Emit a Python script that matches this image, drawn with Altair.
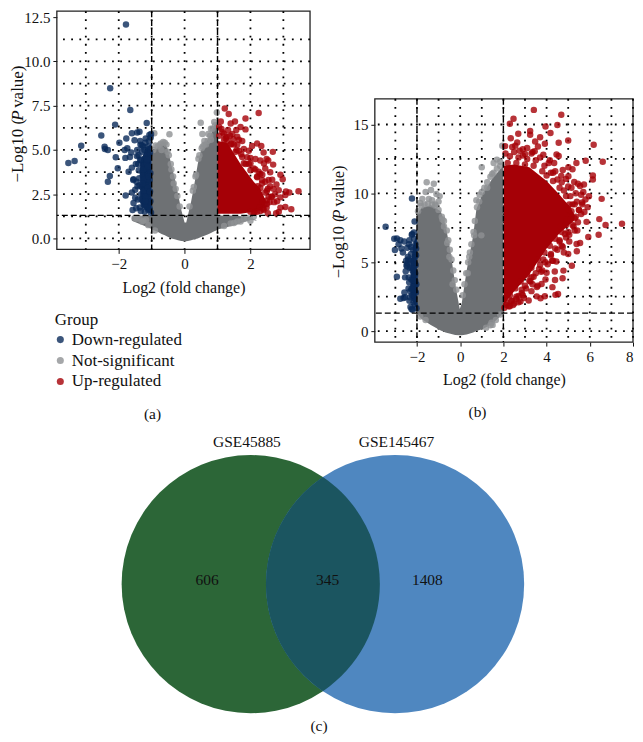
import altair as alt
import pandas as pd

FONT = "Liberation Serif"
GROUPS = ["Down-regulated", "Not-significant", "Up-regulated"]
BASE = ["#0a2a5a", "#8f9193", "#a50006"]

# ---------- panel (a) ----------
a_gray_x = [.49,.54,-.46,.98,-.92,.9,.8,.6,.8,-.72,-.6,-1.52,-1.37,-1.17,1.5,1.9,2.1,1.7,.42,.35,.28,-.52,-.42,-.35,-.27,-.7,.65,.72,.55,-.82,2.0,-1.25,
            -.95,-.88,-.75,-.65,-.55,-.48,-.4,-.33,-.22,-.15,.15,.25,.33,.45,.52,.6,.7,.78,.85,.93,-1.45,-1.3,-1.1,-.9,1.2,1.4,1.6,1.8]
a_gray_y = [6.54,5.9,5.89,7.12,5.94,6.58,6.2,5.5,5.58,5.36,5.4,1.14,1.14,1.05,.87,1.14,1.23,.96,4.5,3.6,2.9,4.9,4.2,3.5,2.8,5.0,5.3,5.9,5.2,5.2,1.0,1.0,
            5.0,5.25,5.3,5.45,5.3,4.7,3.9,3.1,2.4,1.8,1.8,2.7,3.5,4.7,5.1,5.3,5.5,5.8,6.2,6.4,1.1,.95,.75,.45,.7,.85,.95,1.1]
a_down_x = [-1.78,-2.26,-1.65,-2.11,-1.15,-2.53,-3.14,-2.43,-2.33,-1.98,-3.34,-3.53,-2.09,-2.03,-2.27,-2.33,-1.79,-1.6,-1.7,-1.6,-1.77,-1.44,-1.37,-1.07,
            -2.42,-1.82,-1.8,-1.74,-1.66,-1.62,-1.55,-1.52,-1.48,-1.44,-1.42,-1.38,-1.35,-1.33,-1.3,-1.28,-1.26,-1.24,-1.22,-1.2,-1.18,-1.16,-1.14,-1.12,-1.1,-1.08,-1.06,-1.04,-1.03,
            -1.58,-1.5,-1.46,-1.4,-1.36,-1.32,-1.3,-1.27,-1.25,-1.23,-1.21,-1.19,-1.17,-1.15,-1.13,-1.11,-1.09,-1.07,-1.05,-1.02,-1.6,-1.56,-1.47,-1.41,-1.37,-1.34,-1.31,-1.29,-1.24,-1.2,-1.16,-1.12,-1.08,-1.04,-1.55,-1.45,-1.39,-1.33,-1.28,-1.22,-1.18,-1.14,-1.1,-1.06,-1.02,-1.5,-1.43,-1.35,-1.26,-1.19,-1.11,-1.05]
a_down_y = [12.08,8.48,7.25,6.43,6.52,5.82,5.24,5.18,5.0,5.4,4.37,4.26,4.58,3.97,3.53,3.2,2.43,4.0,3.77,5.94,5.65,5.98,6.03,5.85,
            5.05,5.0,4.55,5.1,4.6,4.85,3.35,5.55,4.2,5.0,2.2,3.4,5.5,4.4,2.9,3.75,5.2,1.9,4.5,3.1,5.65,2.4,3.9,5.2,1.6,4.7,3.3,2.1,5.7,
            1.6,2.75,3.2,4.7,1.75,2.5,5.25,3.55,4.1,2.7,1.5,5.4,3.0,4.3,1.95,3.6,5.05,2.55,4.85,1.45,2.6,3.3,1.7,4.2,3.0,5.3,2.2,4.9,3.3,1.8,4.15,2.85,5.5,3.7,2.0,4.65,3.85,1.55,3.1,5.0,2.35,4.45,3.5,1.7,5.9,2.3,2.95,4.45,3.9,2.1,4.05,2.65]
a_up_x = [1.22,1.34,2.25,1.85,1.1,1.53,1.4,1.12,1.32,1.7,1.57,1.85,1.2,1.65,2.05,2.2,2.33,2.4,2.68,1.9,2.15,2.49,2.54,2.69,2.41,2.6,2.91,2.98,2.79,2.66,2.36,2.25,2.53,2.86,3.08,3.46,3.18,3.06,2.91,2.81,2.64,2.39,2.49,2.53,2.13,2.86,2.78,2.91,3.06,3.24,
          1.05,1.15,1.28,1.45,1.6,1.75,1.8,1.58,1.42,1.95,2.0,1.72,1.85,2.3,2.1,2.0,2.45,2.2,2.55,2.35,2.6,2.7,2.45,2.3,2.65,2.75,2.5,2.22,2.38,1.6,1.48,1.38,1.25,2.58,2.72,2.42,2.28,
          1.05,1.2,1.3,1.4,1.5,1.55,1.65,1.75,1.8,1.95,2.0,2.15,2.2,2.3,2.35,2.45,2.5,2.55,2.5,2.4,2.3,2.2,2.1,2.0]
a_up_y = [7.34,7.03,7.08,6.78,6.61,6.61,6.49,6.18,6.12,6.3,6.12,6.16,5.58,5.58,5.22,5.36,5.22,4.86,4.89,4.58,4.49,4.49,4.4,4.17,4.23,3.74,3.6,3.34,3.05,3.32,3.6,3.77,2.81,2.72,2.65,2.67,2.6,2.45,2.32,2.1,2.35,1.68,1.74,1.42,1.5,1.5,1.42,1.74,1.77,1.65,
        6.3,6.0,5.75,5.9,5.3,5.5,5.05,5.0,5.35,4.95,4.55,4.75,4.2,4.4,3.95,4.25,3.95,3.5,3.3,3.3,2.95,2.8,2.6,2.85,2.35,2.5,2.15,2.95,2.1,5.75,5.6,5.8,5.65,2.05,2.05,1.9,1.75,
        5.8,5.9,5.5,5.3,5.3,4.9,4.95,4.6,4.25,4.2,3.85,3.9,3.45,3.65,3.1,3.2,2.7,2.35,1.95,1.6,1.55,1.5,1.45,1.5]
a_gray_area_x = [-1.6,-1.01,-1.0,-.85,-.7,-.6,-.5,-.4,-.3,-.2,-.1,0,.05,.1,.2,.3,.4,.5,.6,.7,.8,.9,1.0,1.01,1.5,2.0,2.2]
a_gray_area_top = [1.25,1.3,4.9,5.1,5.4,5.4,5.0,4.1,3.4,2.5,1.6,.9,.9,1.3,2.1,3.1,4.2,5.0,5.2,5.6,5.9,6.4,6.6,1.3,1.3,1.2,1.0]
a_gray_area_bot = [1.0,.55,.5,.4,.25,.18,.08,0,-.05,-.1,-.14,-.16,-.16,-.14,-.1,-.05,0,.08,.15,.22,.3,.4,.47,.5,.75,1.05,1.0]
a_red_area_x = [1.0,1.3,1.5,1.7,1.9,2.1,2.3,2.45]
a_red_area_top = [5.5,5.4,4.8,4.2,3.7,3.2,2.8,2.2]
a_red_area_bot = [1.4,1.4,1.4,1.4,1.45,1.5,1.6,1.9]
a_blue_area_x = [-1.35,-1.2,-1.0]
a_blue_area_top = [4.3,5.0,5.4]
a_blue_area_bot = [2.0,1.6,1.35]
a_xticks = [-2, 0, 2]
a_yticks = [0, 2.5, 5, 7.5, 10, 12.5]
a_vgrid = [-3, -2, -1, 0, 1, 2, 3]
a_hgrid = [0, 1.25, 2.5, 3.75, 5, 6.25, 7.5, 8.75, 10, 11.25]
a_vdash = [-1, 1]
pval_line = [1.3]

# ---------- panel (b) ----------
b_gray_x = [-1.55,-1.75,-1.35,-1.22,-1.6,-1.85,-1.45,-1.1,-.95,-1.0,-1.3,-1.15,-.82,1.55,1.7,1.95,1.48,1.0,.75,.9,1.25,1.85,-.75,-.6,-.5,.65,.42,1.45,1.5,.35,-.35,.98,
            -1.95,-1.8,-1.65,-1.5,-1.3,-1.15,-1.0,-.85,-.75,-.62,-.55,-.48,-.4,-.32,-.25,-.18,.12,.2,.28,.37,.45,.52,.62,.68,.78,.88,1.0,1.12,1.25,1.4,1.55,1.7,1.85,-1.85,-1.6,1.2,1.4,1.65,1.85]
b_gray_y = [10.8,9.6,10.25,10.7,10.1,9.3,9.6,9.95,9.8,9.4,9.5,9.2,8.1,12.2,12.45,13.45,11.4,11.9,9.5,9.9,10.4,12.3,7.6,6.4,5.4,6.95,5.4,.6,.45,4.2,3.4,6.95,
            8.7,9.1,9.2,9.25,9.2,9.1,8.8,8.3,8.0,7.3,6.6,5.9,5.2,4.4,3.7,3.0,2.6,3.4,4.2,5.0,5.7,6.3,7.2,8.0,9.0,9.4,10.1,10.4,10.8,11.2,11.5,11.8,12.0,1.05,.8,.25,.42,.8,1.2]
b_down_x = [-3.45,-2.23,-2.11,-2.93,-2.77,-2.59,-2.37,-3.02,-2.93,-2.77,-2.56,-2.22,-2.14,-3.05,-2.72,-2.45,-2.65,-2.35,-2.3,-2.25,-2.2,-2.16,-2.12,-2.08,-2.04,
            -2.5,-2.47,-2.42,-2.38,-2.33,-2.28,-2.24,-2.18,-2.14,-2.1,-2.06,-2.02,-2.52,-2.44,-2.36,-2.31,-2.26,-2.21,-2.17,-2.13,-2.09,-2.05,-2.03,-2.55,-2.4,-2.34,-2.27,-2.19,-2.11,-2.07,-2.48,-2.39,-2.29,-2.23,-2.15,-2.08,-2.04,-2.35,-2.25,-2.16,-2.1,-2.62,-2.58,-2.85,-2.3]
b_down_y = [7.57,9.62,7.96,6.73,6.6,6.5,6.31,5.88,3.95,2.34,2.46,7.04,7.16,6.7,6.0,6.05,5.7,6.6,1.75,1.6,1.55,2.1,2.9,4.2,5.5,
            5.1,4.7,5.4,3.9,2.45,6.1,7.0,5.9,6.7,3.3,4.8,1.65,4.35,4.95,3.55,2.9,3.75,4.4,5.1,2.4,4.0,2.8,3.4,3.9,5.2,4.6,5.6,3.2,5.3,6.3,4.8,3.1,4.65,2.6,4.55,3.65,6.0,2.2,3.05,3.7,1.95,2.4,2.8,6.3,5.1]
b_up_x = [3.41,4.68,2.47,2.3,3.95,4.5,3.24,2.69,4.18,3.24,5.0,4.56,6.18,3.7,3.47,2.34,2.64,3.92,2.08,2.41,4.46,4.56,5.81,6.6,5.38,5.01,5.2,4.68,4.3,6.14,6.14,5.01,5.28,5.73,5.55,5.96,6.55,5.7,5.65,5.35,
          7.49,6.44,6.73,5.85,6.41,5.93,5.55,5.39,5.4,5.0,5.17,4.78,4.38,4.74,4.39,4.27,4.53,4.41,3.92,3.72,3.54,3.17,2.79,2.3,3.77,4.0,3.59,5.65,5.05,
          2.9,3.1,3.35,3.6,3.85,3.0,2.75,2.55,3.45,4.15,4.35,4.75,4.9,5.15,5.45,5.6,5.8,5.3,5.5,5.1,4.95,4.65,4.85,5.25,5.05,4.7,4.5,4.2,4.25,4.05,3.85,3.65,3.4,3.25,3.05,2.85,2.6,2.4,2.15,2.95,3.3,3.55,3.95,3.75,4.45,2.5,2.25,2.7,3.2,5.0,5.3,4.6,4.8,5.42,5.6,5.75,5.9,
          2.1,2.3,2.5,2.7,2.9,3.1,3.3,3.5,3.7,3.9,4.1,4.2,4.4,4.5,4.7,4.8,5.0,5.1,5.2,5.4,5.5,5.35,5.45,5.2,5.3,5.0,4.9,4.6,4.75,4.4,4.2,4.3,3.95,3.7,3.8,3.5,3.3,3.35,3.0,2.85,2.9,2.6,2.7,2.35,2.15,2.05,2.45,
          2.2,2.6,3.0,3.4,3.8,4.0,4.3,4.6,4.9,5.05,5.15,5.1,4.9,4.7,4.4,4.15,3.9,3.6,3.3,3.1,2.8,2.55,2.3]
b_up_y = [16.06,15.7,15.41,15.05,14.86,14.97,14.52,14.33,14.38,14.25,13.84,13.67,13.53,14.08,13.77,14.0,13.7,13.6,13.43,13.36,12.83,12.71,12.37,12.3,12.2,11.9,11.75,11.27,11.5,11.3,11.0,11.25,10.83,10.64,10.54,9.79,9.6,10.1,9.33,10.0,
        7.79,8.13,7.7,7.93,7.0,6.83,6.4,6.32,5.8,5.6,4.75,4.39,4.32,3.83,3.71,3.19,2.7,2.63,2.53,2.39,2.52,2.22,2.14,1.81,3.42,4.23,3.3,9.2,7.0,
        13.2,13.3,13.0,13.4,12.8,12.85,13.1,13.45,13.05,12.4,12.2,11.7,11.05,10.4,10.7,9.9,9.55,9.2,8.8,8.45,8.1,7.6,7.05,7.6,6.5,6.2,5.9,5.6,5.1,4.85,5.2,4.5,3.95,3.6,3.1,2.75,2.35,2.2,2.05,2.4,2.9,3.2,3.75,4.3,5.05,2.0,1.8,2.55,3.65,8.85,8.2,6.6,5.7,7.3,8.5,8.65,9.0,
        12.9,12.7,13.0,12.6,12.75,12.5,12.9,12.4,12.6,12.0,12.2,11.5,11.6,11.0,10.8,10.2,10.5,9.8,9.2,9.4,8.8,8.3,7.9,7.7,7.3,7.2,6.8,6.5,6.1,6.0,5.5,5.1,5.0,4.8,4.4,4.2,3.9,3.4,3.3,3.0,2.6,2.5,2.1,2.2,1.9,1.7,1.9,
        12.2,12.2,12.1,12.0,11.6,11.3,10.9,10.4,9.8,9.2,8.7,8.1,7.7,7.2,6.7,6.2,5.7,5.2,4.6,4.1,3.6,3.1,2.6]
b_gray_area_x = [-2.0,-1.8,-1.36,-.9,-.68,-.45,-.23,-.02,.07,.3,.6,.75,1.05,1.5,1.99,2.0]
b_gray_area_top = [8.4,8.95,9.15,8.7,7.7,5.8,3.4,1.6,2.0,4.4,6.9,8.85,10.0,11.1,12.0,1.6]
b_gray_area_bot = [1.3,.9,.45,.05,-.1,-.2,-.28,-.3,-.3,-.25,-.1,0,.15,.53,1.3,1.6]
b_red_area_x = [2.02,2.5,3.2,4.0,4.6,5.1,5.3]
b_red_area_top = [12.0,12.1,11.9,10.9,9.9,9.0,8.4]
b_red_area_bot = [1.9,2.9,4.1,6.0,7.1,7.8,8.1]
b_blue_area_x = [-2.3,-2.15,-2.0]
b_blue_area_top = [4.8,6.4,7.1]
b_blue_area_bot = [2.6,2.0,1.6]
b_xticks = [-2, 0, 2, 4, 6, 8]
b_yticks = [0, 5, 10, 15]
b_vgrid = [-3, -2, -1, 0, 1, 2, 3, 4, 5, 6, 7, 8]
b_hgrid = [0, 2.5, 5, 7.5, 10, 12.5, 15]
b_vdash = [-2, 2]

# ---------- panel (c) ----------
venn_names = ["GSE45885", "GSE145467"]
venn_cx = [250.5, 395.3]
venn_cy = [582.8, 582.8]
venn_cols = ["#2c6637", "#4f87c0"]
lens_col = "#1b5560"
lens_cx = [322.9]
lens_cy = [582.8]
set_lab_x = [246.7, 396.7]
set_lab_y = [440, 440]
count_text = ["606", "345", "1408"]
count_x = [206.7, 327.7, 427.7]
count_y = [579, 579, 579]
cap_text = ["(a)", "(b)", "(c)"]
cap_x = [152, 478, 319]
cap_y = [412, 410, 725]


def points(gx, gy, ux, uy, dx, dy):
    rows = [(GROUPS[1], x, y) for x, y in zip(gx, gy)]
    rows += [(GROUPS[2], x, y) for x, y in zip(ux, uy)]
    rows += [(GROUPS[0], x, y) for x, y in zip(dx, dy)]
    return pd.DataFrame(rows, columns=["group", "x", "y"])


def area(xs, top, bot):
    return pd.DataFrame({"x": xs, "top": top, "bot": bot})


def panel(pts, gray, red, blue, xdom, ydom, xticks, yticks, yfmt, vgrid, hgrid, vdash,
          w, h, off, title_x, title_size, ypieces, xpad, legend):
    xs = alt.Scale(domain=xdom, nice=False, zero=False)
    ys = alt.Scale(domain=ydom, nice=False, zero=False, range=[off + h, off])
    xa = alt.Axis(values=xticks, format="d", grid=False, domain=False, tickColor="#111",
                  tickSize=4, labelFont=FONT, labelFontSize=15, labelColor="#111", labelPadding=3,
                  labelFlush=True, title="Log2 (fold change)", titleFont=FONT, titleFontSize=16,
                  titleFontWeight="normal", titleColor="#111", titlePadding=xpad)
    ya = alt.Axis(values=yticks, format=yfmt, grid=False, domain=False, tickColor="#111",
                  tickSize=4, labelFont=FONT, labelFontSize=15, labelColor="#111", labelPadding=3,
                  title="")
    def X(f):
        return alt.X(f, scale=xs, axis=xa)
    def Y(f):
        return alt.Y(f, scale=ys, axis=ya)
    frame = alt.Chart(pd.DataFrame({"a": [0]})).mark_rect(fill="transparent", stroke="#222", strokeWidth=1.3).encode(
        x=alt.value(0), x2=alt.value(w), y=alt.value(off), y2=alt.value(off + h))
    vg = alt.Chart(pd.DataFrame({"v": vgrid})).mark_rule(stroke="#000", strokeWidth=1.8, strokeDash=[1.8, 6.4]).encode(
        x=X("v:Q"), y=alt.value(off), y2=alt.value(off + h))
    hg = alt.Chart(pd.DataFrame({"v": hgrid})).mark_rule(stroke="#000", strokeWidth=1.8, strokeDash=[1.8, 6.4]).encode(y=Y("v:Q"))
    ga = alt.Chart(gray).mark_area(color="#6e7174", opacity=1).encode(x=X("x:Q"), y=Y("top:Q"), y2="bot:Q")
    ra = alt.Chart(red).mark_area(color="#a50006", opacity=1).encode(x=X("x:Q"), y=Y("top:Q"), y2="bot:Q")
    ba = alt.Chart(blue).mark_area(color="#0d2c5c", opacity=1).encode(x=X("x:Q"), y=Y("top:Q"), y2="bot:Q")
    col = alt.Color("group:N", scale=alt.Scale(domain=GROUPS, range=BASE), legend=legend)
    pt = alt.Chart(pts).mark_circle(size=42, opacity=0.8).encode(x=X("x:Q"), y=Y("y:Q"), color=col)
    vd = alt.Chart(pd.DataFrame({"v": vdash})).mark_rule(stroke="#000", strokeWidth=1.4, strokeDash=[6, 3]).encode(
        x=X("v:Q"), y=alt.value(off), y2=alt.value(off + h))
    hd = alt.Chart(pd.DataFrame({"v": pval_line})).mark_rule(stroke="#000", strokeWidth=1.4, strokeDash=[6, 3]).encode(y=Y("v:Q"))
    txt = []
    for s, yp, st in ypieces:
        txt.append(alt.Chart(pd.DataFrame({"t": [s]})).mark_text(font=FONT, fontSize=title_size, fontStyle=st, angle=270,
                   align="left", baseline="middle", color="#111").encode(text="t:N", x=alt.value(title_x), y=alt.value(yp)))
    return alt.layer(frame, vg, hg, ga, ra, ba, pt, vd, hd, *txt).properties(
        width=w, height=off + h, view=alt.ViewConfig(stroke="transparent"))


legend_a = alt.Legend(orient="none", legendX=-2, legendY=302, title="Group", titleFont=FONT, titleFontSize=17,
                      titleFontWeight="normal", titleColor="#111", labelFont=FONT, labelFontSize=17, labelColor="#111",
                      symbolType="circle", symbolSize=50, symbolOffset=-3, rowPadding=3, titlePadding=2, labelOffset=3, symbolStrokeWidth=0)

A = panel(points(a_gray_x, a_gray_y, a_up_x, a_up_y, a_down_x, a_down_y),
          area(a_gray_area_x, a_gray_area_top, a_gray_area_bot),
          area(a_red_area_x, a_red_area_top, a_red_area_bot),
          area(a_blue_area_x, a_blue_area_top, a_blue_area_bot),
          [-3.88, 3.81], [-0.62, 12.84], a_xticks, a_yticks, ".1f", a_vgrid, a_hgrid, a_vdash,
          254, 239, 0, -39, 17,
          [("\u2212Log10 (", 172, "normal"), ("P", 110, "italic"), ("value)", 97, "normal")], 8, legend_a)

B = panel(points(b_gray_x, b_gray_y, b_up_x, b_up_y, b_down_x, b_down_y),
          area(b_gray_area_x, b_gray_area_top, b_gray_area_bot),
          area(b_red_area_x, b_red_area_top, b_red_area_bot),
          area(b_blue_area_x, b_blue_area_top, b_blue_area_bot),
          [-3.95, 8.0], [-0.8, 16.86], b_xticks, b_yticks, "d", b_vgrid, b_hgrid, b_vdash,
          259, 244, 88, -36, 16.5,
          [("\u2212Log10 (", 268, "normal"), ("P", 209, "italic"), ("value)", 196, "normal")], 8, None)

VX = alt.Scale(domain=[56, 634], nice=False, zero=False)
VY = alt.Scale(domain=[734, 400], nice=False, zero=False)
venn = pd.DataFrame({"name": venn_names, "x": venn_cx, "y": venn_cy})
circles = alt.Chart(venn).mark_circle(size=67081, opacity=1).encode(
    x=alt.X("x:Q", scale=VX, axis=None), y=alt.Y("y:Q", scale=VY, axis=None),
    color=alt.Color("name:N", scale=alt.Scale(domain=venn_names, range=venn_cols), legend=None))
lens = alt.Chart(pd.DataFrame({"x": lens_cx, "y": lens_cy})).mark_point(
    shape="M0,-1A1.2058,1.2058,0,0,1,0,1A1.2058,1.2058,0,0,1,0,-1Z", size=46140,
    filled=True, fill=lens_col, opacity=1, strokeWidth=0).encode(
    x=alt.X("x:Q", scale=VX, axis=None), y=alt.Y("y:Q", scale=VY, axis=None))


def labels(t, x, y, size):
    return alt.Chart(pd.DataFrame({"t": t, "x": x, "y": y})).mark_text(
        font=FONT, fontSize=size, color="#111", align="center", baseline="middle").encode(
        x=alt.X("x:Q", scale=VX, axis=None), y=alt.Y("y:Q", scale=VY, axis=None), text="t:N")


C = alt.layer(circles, lens, labels(venn_names, set_lab_x, set_lab_y, 15.5),
              labels(count_text, count_x, count_y, 15.5), labels(cap_text, cap_x, cap_y, 15.5)).properties(
    width=578, height=334, view=alt.ViewConfig(stroke="transparent"))

top = alt.hconcat(A, B, spacing=65, bounds="flush").resolve_scale(color="independent")
chart = alt.vconcat(top, C, spacing=392, bounds="flush").properties(padding=0).resolve_scale(color="independent")
chart.save("out.html", embed_options={"renderer": "svg", "actions": False})
